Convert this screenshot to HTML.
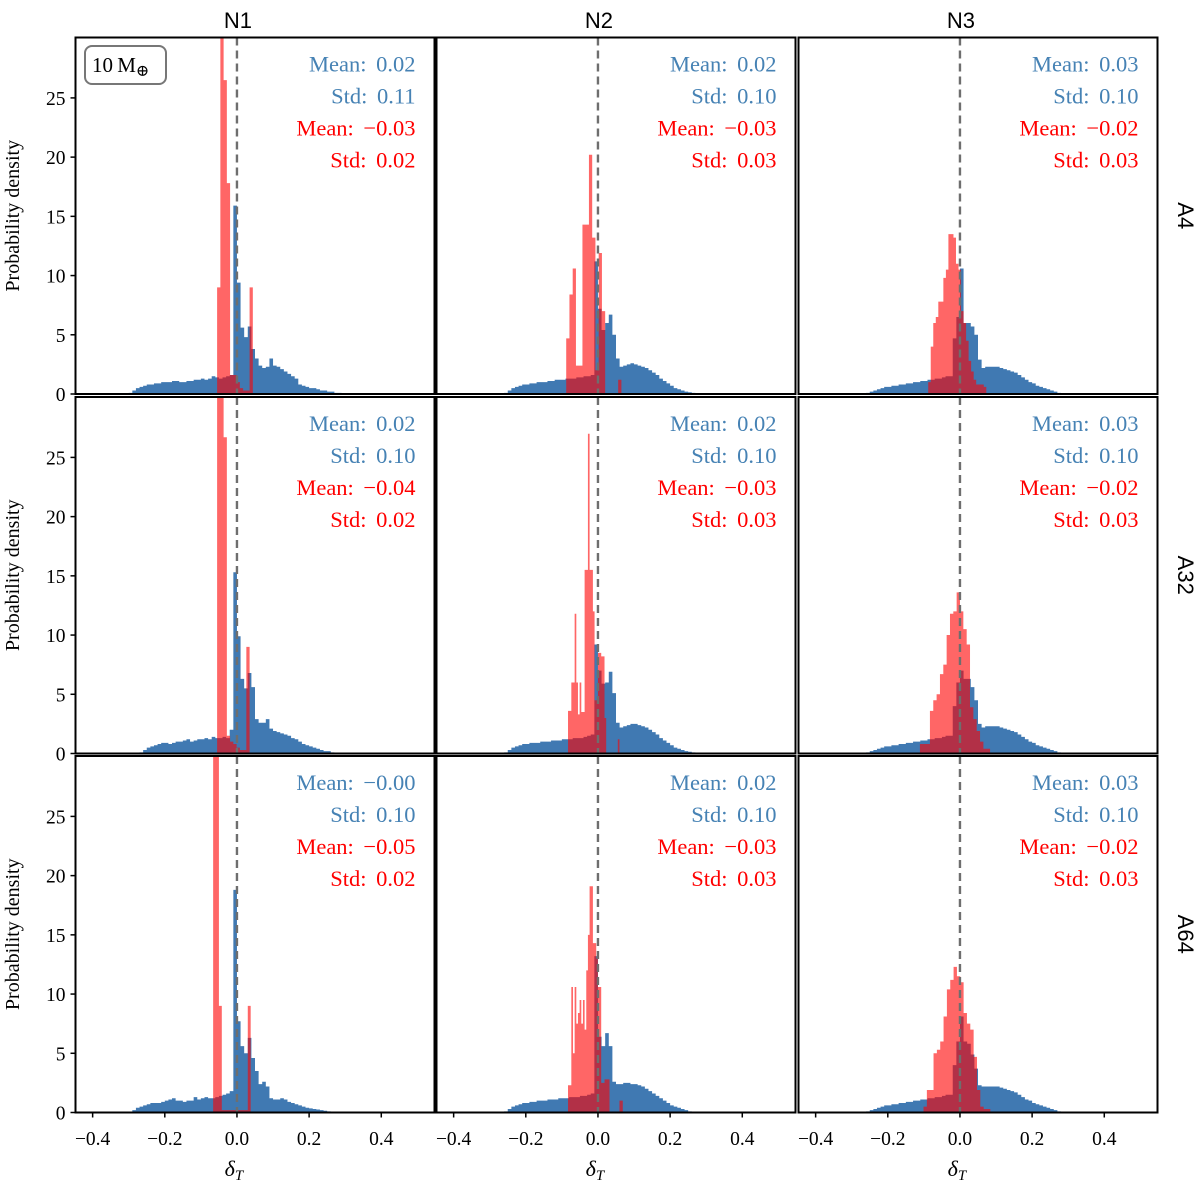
<!DOCTYPE html>
<html><head><meta charset="utf-8">
<style>
html,body{margin:0;padding:0;background:#fff;}
svg{display:block;}
text{font-family:"Liberation Serif","DejaVu Serif",serif;}
.sans{font-family:"Liberation Sans","DejaVu Sans",sans-serif;}
</style></head>
<body>
<svg id="fig" width="1200" height="1184" viewBox="0 0 1200 1184" xmlns="http://www.w3.org/2000/svg"></svg>
<script>
// ---- data ----
const colTitles = ["N1","N2","N3"];
const rowTitles = ["A4","A32","A64"];
const xTicks = [-0.4,-0.2,0.0,0.2,0.4];
const xTickLabels = ["\u22120.4","\u22120.2","0.0","0.2","0.4"];
const yTicks = [0,5,10,15,20,25];
const yTickLabels = ["0","5","10","15","20","25"];
const blueStart = -0.30, blueWidth = 0.01;
const blue11 = [0.1,0.3,0.5,0.6,0.7,0.8,0.8,0.9,0.9,1.0, 1.0,1.0,1.1,1.1,1.0,1.0,1.1,1.1,1.2,1.2, 1.3,1.2,1.3,1.5,1.4,1.3,1.4,1.5,1.6,15.9, 9.4,5.6,4.8,5.7,3.8,3.0,2.4,2.2,2.3,3.0, 2.4,2.3,2.1,1.9,1.7,1.5,1.3,0.8,0.7,0.6, 0.5,0.5,0.4,0.3,0.3,0.2,0.2,0.1,0.1,0.0];
const blue21 = [0,0,0,0.1,0.3,0.5,0.6,0.7,0.8,0.9, 0.9,0.8,0.9,1.0,1.0,1.1,1.2,1.0,1.1,1.2, 1.2,1.3,1.2,1.4,1.3,1.3,1.4,1.3,2.0,15.3, 9.9,6.3,5.5,6.8,5.6,2.9,2.6,2.6,2.9,2.1, 1.9,1.8,1.7,1.6,1.5,1.3,1.2,1.0,0.8,0.7, 0.6,0.5,0.4,0.3,0.2,0.2,0.1,0.05,0,0];
const blue31 = [0.05,0.2,0.4,0.5,0.6,0.7,0.8,0.8,0.8,0.9, 1.0,1.1,1.2,1.0,1.0,0.9,1.0,1.0,1.3,1.1, 1.2,1.3,1.2,1.2,1.3,1.4,1.5,1.6,1.8,18.8, 7.7,5.6,5.0,6.3,4.6,3.5,2.4,2.6,2.2,1.2, 1.1,1.1,1.2,1.1,0.9,0.8,0.7,0.6,0.5,0.4, 0.35,0.3,0.25,0.2,0.15,0.1,0.05,0.02,0,0];
const blue12 = [0,0,0,0,0.1,0.3,0.5,0.6,0.7,0.8, 0.8,0.9,0.9,1.0,1.0,1.0,1.1,1.1,1.2,1.2, 1.2,1.3,1.3,1.3,1.4,1.4,1.5,1.5,1.6,11.2, 7.2,5.4,6.0,6.7,5.0,3.0,2.3,2.4,2.5,2.6, 2.5,2.4,2.3,2.2,2.0,1.8,1.6,1.3,1.1,0.9, 0.7,0.5,0.4,0.3,0.2,0.15,0.1,0.05,0,0];
const blue22 = [0,0,0,0,0.1,0.3,0.5,0.6,0.7,0.8, 0.8,0.9,0.9,0.9,1.0,1.0,1.0,1.1,1.1,1.1, 1.2,1.2,1.2,1.3,1.3,1.3,1.4,1.5,1.6,9.2, 7.0,5.9,6.0,6.9,5.1,2.6,2.2,2.3,2.4,2.5, 2.5,2.4,2.3,2.2,2.0,1.8,1.6,1.3,1.1,0.9, 0.7,0.5,0.4,0.3,0.2,0.15,0.1,0.05,0,0];
const blue32 = [0,0,0,0,0.1,0.3,0.5,0.6,0.7,0.8, 0.8,0.9,0.9,1.0,1.0,1.0,1.1,1.1,1.1,1.2, 1.2,1.2,1.3,1.3,1.3,1.4,1.4,1.5,1.6,13.2, 6.4,5.6,6.7,5.6,2.6,2.4,2.4,2.5,2.5,2.4, 2.4,2.3,2.2,2.0,1.8,1.6,1.4,1.2,1.0,0.8, 0.6,0.5,0.4,0.3,0.2,0.1,0.05,0,0,0];
const blue13 = [0,0,0,0,0.1,0.2,0.3,0.4,0.5,0.6, 0.6,0.7,0.7,0.8,0.8,0.9,0.9,1.0,1.0,1.1, 1.1,1.2,1.2,1.3,1.3,1.4,1.5,1.5,4.7,6.5, 10.6,6.0,6.0,5.7,5.0,2.9,2.2,2.3,2.3,2.3, 2.3,2.2,2.1,2.0,1.9,1.8,1.6,1.4,1.2,1.0, 0.9,0.7,0.6,0.5,0.4,0.3,0.2,0.1,0.05,0.02];
const blue23 = [0,0,0,0,0.1,0.2,0.3,0.4,0.5,0.6, 0.6,0.7,0.7,0.8,0.8,0.9,0.9,1.0,1.0,1.1, 1.1,1.2,1.2,1.3,1.3,1.4,1.5,1.5,4.0,6.0, 7.0,6.3,6.3,5.6,4.5,2.5,2.2,2.3,2.3,2.3, 2.3,2.2,2.1,2.0,1.9,1.8,1.6,1.4,1.2,1.0, 0.9,0.7,0.6,0.5,0.4,0.3,0.2,0.1,0.05,0.02];
const blue33 = [0,0,0,0,0.1,0.2,0.3,0.4,0.5,0.6, 0.6,0.7,0.7,0.8,0.8,0.9,0.9,1.0,1.0,1.1, 1.1,1.2,1.2,1.3,1.3,1.4,1.5,1.5,4.0,6.0, 8.1,6.0,5.8,4.9,3.7,2.3,2.2,2.2,2.2,2.2, 2.2,2.1,2.0,1.9,1.8,1.7,1.5,1.3,1.1,1.0, 0.8,0.7,0.6,0.5,0.4,0.3,0.2,0.1,0.05,0.02];
const red11 = [9.0,31,26.5,17.8,1.6,1.6,1.0,0.5,0.3,0.3,9.0];
const red21 = [31,31,26.7,1.5,1.0,0.8,0.5,0.3,0.3,9.0];
const red31 = [31,31,9.0,0.2,0.2,0.2,0.2,0.2,0.2,0.2,0.2,0.2,9.0];
const red12 = [4.7,8.4,10.6,2.4,2.4,14.3,14.3,20.2,13.2,2.0,11.9,7.0,0,0,0,0,1.2];
const red22 = [3.6,3.6,6.0,6.0,11.8,6.0,3.3,6.0,3.5,3.5,15.5,15.5,27,15.5,15.5,12,4.5,4.5,8.5,8.5,8.2,8.2,3.0,0,0,0,0,0,0,0,1.2];
const red32 = [2.3,2.3,10.6,5.0,10.6,7.5,8.4,9.5,7.5,9.5,7.0,12.0,15,19.1,19.1,14.3,14.3,13.0,10.6,10.6,2.5,2.5,2.8,2.8,2.8,0,0,0,0,0,0,1.0,1.0];
const red13 = [1.0,4.0,6.0,6.5,7.8,7.8,9.8,10.5,13.5,13.5,13.2,11.0,10.5,7.0,6.0,4.5,2.8,1.9,1.2,0.8,0.8,0.8,0.6];
const red23 = [0.8,0.8,0.8,3.6,4.5,5.0,6.7,7.5,10,11.8,12.0,13.6,12.0,10.5,9.2,3.9,2.9,1.9,1.0,0.4,0.4];
const red33 = [0.5,1.9,1.9,5.0,5.3,6.0,8.1,10.4,11.2,12.3,11.5,11.0,8.4,7.5,7.0,4.7,1.9,0.5,0.3,0.3];
const redStarts = [[-0.055,-0.088,-0.088],[-0.055,-0.083,-0.111],[-0.066,-0.083,-0.101]];
const redWidths = [[0.009,0.009,0.007],[0.009,0.0046,0.00926],[0.008,0.0046,0.00926]];
const blueSeries = [[blue11,blue12,blue13],[blue21,blue22,blue23],[blue31,blue32,blue33]];
const redSeries = [[red11,red12,red13],[red21,red22,red23],[red31,red32,red33]];
const blueMeans = [["0.02","0.02","0.03"],["0.02","0.02","0.03"],["\u22120.00","0.02","0.03"]];
const blueStds = [["0.11","0.10","0.10"],["0.10","0.10","0.10"],["0.10","0.10","0.10"]];
const redMeans = [["\u22120.03","\u22120.03","\u22120.02"],["\u22120.04","\u22120.03","\u22120.02"],["\u22120.05","\u22120.03","\u22120.02"]];
const redStds = [["0.02","0.03","0.03"],["0.02","0.03","0.03"],["0.02","0.03","0.03"]];

// ---- layout ----
const NS = "http://www.w3.org/2000/svg";
const svg = document.getElementById("fig");
const colLeft = [75.5, 436.5, 798.5];
const rowTop = [37.5, 397, 756];
const PW = 359, PH = 356.5;
const XMIN = -0.4475, XSCALE = 360.8, YMAX = 30.1;
function mk(tag, attrs, parent){
  const e = document.createElementNS(NS, tag);
  for (const k in attrs) e.setAttribute(k, attrs[k]);
  (parent||svg).appendChild(e);
  return e;
}
function X(c, v){ return colLeft[c] + (v - XMIN) * XSCALE; }
function Y(r, v){ return rowTop[r] + PH - v * (PH / YMAX); }
function stepPath(r, c, start, w, vals){
  let d = "M" + X(c,start).toFixed(2) + "," + Y(r,0).toFixed(2);
  for (let i = 0; i < vals.length; i++){
    const x0 = X(c, start + i*w), x1 = X(c, start + (i+1)*w), y = Y(r, vals[i]);
    d += "L" + x0.toFixed(2) + "," + y.toFixed(2) + "L" + x1.toFixed(2) + "," + y.toFixed(2);
  }
  d += "L" + X(c, start + vals.length*w).toFixed(2) + "," + Y(r,0).toFixed(2) + "Z";
  return d;
}
const defs = mk("defs", {});

for (let r = 0; r < 3; r++){
  for (let c = 0; c < 3; c++){
    const g = mk("g", {});
    
    
    const cp = mk("clipPath", {id: "cp"+r+c}, defs);
    mk("rect", {x: colLeft[c], y: rowTop[r], width: PW, height: PH}, cp);
    const hg = mk("g", {"clip-path": "url(#cp"+r+c+")"}, g);
    const bp = mk("path", {d: stepPath(r, c, blueStart, blueWidth, blueSeries[r][c]), fill: "#4079b2"}, hg);
    
    
    const rp = mk("path", {d: stepPath(r, c, redStarts[r][c], redWidths[r][c], redSeries[r][c]), fill: "#ff0000", "fill-opacity": "0.6"}, hg);
    
    
    const zl = mk("line", {x1: X(c,0), x2: X(c,0), y1: rowTop[r], y2: rowTop[r]+PH, stroke: "#6e6e6e", "stroke-width": 2.4, "stroke-dasharray": "8,5"}, g);
    
    
    const fr = mk("rect", {x: colLeft[c], y: rowTop[r], width: PW, height: PH, fill: "none", stroke: "#000", "stroke-width": 2}, g);
    
    
    // stats
    const tx = colLeft[c] + PW - 19;
    const lines = [["Mean: " + blueMeans[r][c], "#4682b4"], ["Std: " + blueStds[r][c], "#4682b4"], ["Mean: " + redMeans[r][c], "#ff0000"], ["Std: " + redStds[r][c], "#ff0000"]];
    const names = ["blue-mean-label","blue-std-label","red-mean-label","red-std-label"];
    for (let i = 0; i < 4; i++){
      const t = mk("text", {x: tx, y: rowTop[r] + 34 + 32*i, "text-anchor": "end", "font-size": 22.5, "word-spacing": "4", fill: lines[i][1], "xml:space": "preserve", style: "white-space:pre"}, g);
      t.textContent = lines[i][0];
      
      
    }
    // x ticks on bottom row
    if (r === 2){
      for (let i = 0; i < xTicks.length; i++){
        const xx = X(c, xTicks[i]);
        mk("line", {x1: xx, x2: xx, y1: rowTop[r]+PH, y2: rowTop[r]+PH+5, stroke: "#000", "stroke-width": 1.5}, g);
        const t = mk("text", {x: xx, y: 1145, "text-anchor": "middle", "font-size": 19.5, fill: "#000"}, g);
        t.textContent = xTickLabels[i];
        
        
      }
      const xl = mk("text", {x: X(c,0)-3, y: 1176, "text-anchor": "middle", "font-size": 22, "font-style": "italic", fill: "#000"}, g);
      xl.textContent = "\u03b4";
      const sub = mk("tspan", {"font-size": 15, dy: 4}, xl);
      sub.textContent = "T";
      
      
    }
    if (c === 0){
      for (let i = 0; i < yTicks.length; i++){
        const yy = Y(r, yTicks[i]);
        mk("line", {x1: colLeft[c]-5, x2: colLeft[c], y1: yy, y2: yy, stroke: "#000", "stroke-width": 1.5}, g);
        const t = mk("text", {x: colLeft[c]-10, y: yy + 7, "text-anchor": "end", "font-size": 19.5, fill: "#000"}, g);
        t.textContent = yTickLabels[i];
        
        
      }
      const cy = rowTop[r] + PH/2;
      const yl = mk("text", {x: 19, y: cy, "text-anchor": "middle", "font-size": 20, fill: "#000", transform: "rotate(-90 19 " + cy + ")"}, g);
      yl.textContent = "Probability density";
      
      
    }
  }
}
// column titles
for (let c = 0; c < 3; c++){
  const t = mk("text", {x: X(c,0)+1, y: 28, "text-anchor": "middle", "font-size": 22, fill: "#000", class: "sans"});
  t.textContent = colTitles[c];
  
  
}
// row titles
for (let r = 0; r < 3; r++){
  const cy = rowTop[r] + PH/2;
  const t = mk("text", {x: 1178, y: cy, "text-anchor": "middle", "font-size": 22, fill: "#000", class: "sans", transform: "rotate(90 1178 " + cy + ")"});
  t.textContent = rowTitles[r];
  
  
}
// mass box
const mb = mk("g", {});


mk("rect", {x: 85, y: 46, width: 81, height: 38, rx: 7, fill: "#fff", stroke: "#777", "stroke-width": 2}, mb);
const mt = mk("text", {x: 92, y: 72, "font-size": 21, fill: "#000"}, mb);
mt.textContent = "10\u2009M";
const ms = mk("tspan", {"font-size": 16, dy: 4}, mt);
ms.textContent = "\u2295";
</script>
</body></html>
